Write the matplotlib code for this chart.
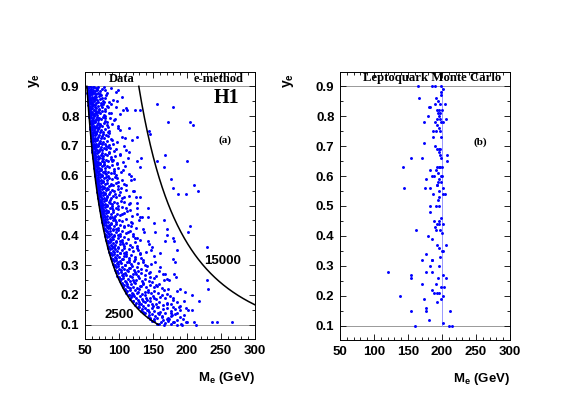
import numpy as np
import matplotlib
matplotlib.use('Agg')
import matplotlib.pyplot as plt
from matplotlib.ticker import MultipleLocator

plt.rcParams['font.family'] = 'Liberation Sans'
plt.rcParams['mathtext.fontset'] = 'custom'
plt.rcParams['mathtext.rm'] = 'Liberation Sans'
plt.rcParams['mathtext.bf'] = 'Liberation Sans:bold'

# --- data ---
# (a) H1 data, e-method: dense band right of the Q2 = 2500 line
dense_pts = [
    (53.1,.899),(53.8,.886),(54.6,.894),(55.2,.881),(55.9,.897),(56.7,.889),(57.5,.884),(58.2,.899),(59.0,.891),(60.3,.882),(61.1,.896),(62.4,.888),(63.8,.899),(64.6,.883),(66.2,.893),(67.9,.887),(69.5,.898),(71.8,.884),(74.3,.892),(77.6,.897),(79,.886),(88,.895),(99,.889),
    (53.6,.878),(54.3,.864),(54.9,.872),(55.7,.867),(56.4,.876),(57.1,.861),(57.9,.871),(58.8,.879),(59.6,.865),(60.7,.874),(61.9,.862),(63.2,.877),(64.1,.869),(65.5,.873),(66.8,.863),(68.4,.878),(70.1,.866),(72.6,.874),(75.2,.862),(81,.871),(83,.877),(104,.865),
    (54.2,.859),(54.8,.846),(55.5,.853),(56.1,.841),(56.9,.857),(57.6,.849),(58.4,.843),(59.3,.855),(60.1,.847),(61.2,.858),(62.0,.842),(63.5,.851),(64.8,.856),(66.1,.844),(67.7,.853),(69.2,.848),(71.4,.857),(73.9,.845),(76.8,.852),(78,.846),(91,.855),(86,.849),
    (54.8,.838),(55.4,.826),(56.0,.834),(56.6,.821),(57.3,.831),(58.1,.839),(58.9,.825),(59.8,.833),(60.6,.828),(61.7,.837),(62.9,.822),(64.2,.831),(65.4,.836),(66.9,.826),(68.6,.834),(70.3,.823),(72.8,.838),(75.4,.829),(82,.835),(80,.824),(96,.832),(110,.827),
    (55.4,.818),(56.1,.806),(56.7,.813),(57.4,.802),(58.0,.817),(58.8,.809),(59.5,.804),(60.4,.815),(61.3,.807),(62.5,.819),(63.6,.803),(64.9,.812),(66.3,.816),(67.8,.805),(69.6,.814),(71.9,.809),(74.7,.818),(77.4,.803),(85,.811),(79,.816),(101,.806),
    (56.1,.798),(56.8,.785),(57.4,.793),(58.2,.781),(58.9,.796),(59.7,.788),(60.5,.783),(61.4,.795),(62.3,.787),(63.5,.799),(64.7,.782),(66.0,.791),(67.4,.796),(69.0,.786),(70.8,.794),(73.1,.789),(75.9,.797),(78.8,.784),(80,.792),(93,.787),(87,.795),
    (56.9,.778),(57.6,.764),(58.2,.772),(58.9,.761),(59.7,.775),(60.5,.768),(61.3,.763),(62.3,.776),(63.2,.766),(64.4,.779),(65.6,.762),(67.0,.771),(68.5,.777),(70.2,.765),(72.2,.773),(74.6,.768),(77.3,.776),(84,.763),(82,.771),(98,.766),(90,.774),
    (57.7,.758),(58.4,.745),(59.0,.752),(59.8,.741),(60.5,.756),(61.4,.748),(62.2,.743),(63.2,.755),(64.1,.746),(65.4,.759),(66.7,.742),(68.1,.751),(69.8,.757),(71.5,.745),(73.6,.753),(76.2,.748),(79.2,.756),(86,.744),(101,.752),(84,.747),
    (58.5,.738),(59.2,.725),(59.9,.733),(60.6,.721),(61.4,.736),(62.3,.728),(63.2,.723),(64.2,.735),(65.2,.726),(66.5,.739),(67.9,.722),(69.4,.731),(71.0,.737),(72.9,.725),(75.1,.733),(77.8,.728),(81.0,.736),(88,.724),(84,.732),(109,.727),
    (59.3,.718),(60.0,.705),(60.7,.713),(61.5,.701),(62.3,.716),(63.2,.708),(64.1,.703),(65.2,.715),(66.3,.706),(67.6,.719),(69.0,.702),(70.6,.711),(72.3,.717),(74.3,.705),(76.6,.713),(79.4,.708),(82.8,.716),(85,.704),(97,.712),(91,.707),
    (60.1,.698),(60.9,.685),(61.6,.693),(62.4,.681),(63.2,.696),(64.1,.688),(65.1,.683),(66.2,.695),(67.3,.686),(68.7,.699),(70.2,.682),(71.8,.691),(73.6,.697),(75.6,.685),(78.0,.693),(81.0,.688),(84,.696),(93,.684),(87,.692),(111,.687),
    (61.0,.678),(61.8,.665),(62.5,.673),(63.3,.661),(64.2,.676),(65.1,.668),(66.1,.663),(67.2,.675),(68.4,.666),(69.8,.679),(71.3,.662),(73.0,.671),(74.9,.677),(77.0,.665),(79.6,.673),(82.5,.668),(86,.676),(88,.664),(102,.672),(94,.667),
    (62.0,.658),(62.8,.645),(63.5,.653),(64.4,.641),(65.3,.656),(66.2,.648),(67.2,.643),(68.4,.655),(69.6,.646),(71.0,.659),(72.6,.642),(74.3,.651),(76.2,.657),(78.5,.645),(81.1,.653),(84,.648),(88,.656),(97,.644),(91,.652),(106,.647),
    (62.9,.638),(63.7,.625),(64.5,.633),(65.4,.621),(66.3,.636),(67.3,.628),(68.3,.623),(69.5,.635),(70.8,.626),(72.2,.639),(73.8,.622),(75.6,.631),(77.6,.637),(79.9,.625),(82.6,.633),(86,.628),(90,.636),(93,.624),(109,.632),(99,.627),
    (64.0,.618),(64.8,.605),(65.6,.613),(66.5,.601),(67.4,.616),(68.4,.608),(69.5,.603),(70.7,.615),(72.0,.606),(73.5,.619),(75.1,.602),(77.0,.611),(79.1,.617),(81.5,.605),(84.3,.613),(88,.608),(92,.616),(95,.604),(103,.612),(114,.607),
    (65.1,.598),(65.9,.585),(66.7,.593),(67.6,.581),(68.6,.596),(69.6,.588),(70.7,.583),(71.9,.595),(73.3,.586),(74.8,.599),(76.5,.582),(78.4,.591),(80.5,.597),(83.0,.585),(85.9,.593),(89,.588),(94,.596),(104,.584),(97,.592),(118,.587),
    (66.2,.578),(67.0,.565),(67.9,.573),(68.8,.561),(69.8,.576),(70.8,.568),(72.0,.563),(73.2,.575),(74.6,.566),(76.2,.579),(77.9,.562),(79.8,.571),(82.0,.577),(84.6,.565),(87.5,.573),(91,.568),(96,.576),(99,.564),(108,.572),
    (67.4,.558),(68.2,.545),(69.1,.553),(70.0,.541),(71.0,.556),(72.1,.548),(73.3,.543),(74.6,.555),(76.0,.546),(77.6,.559),(79.3,.542),(81.3,.551),(83.5,.557),(86.1,.545),(89.1,.553),(93,.548),(98,.556),(101,.544),(111,.552),(121,.547),
    (68.7,.538),(69.5,.525),(70.4,.533),(71.3,.521),(72.4,.536),(73.5,.528),(74.7,.523),(76.0,.535),(77.5,.526),(79.1,.539),(80.9,.522),(82.9,.531),(85.2,.537),(87.9,.525),(91.0,.533),(95,.528),(100,.536),(104,.524),(115,.532),
    (70.0,.518),(70.9,.505),(71.8,.513),(72.8,.501),(73.8,.516),(75.0,.508),(76.2,.503),(77.6,.515),(79.1,.506),(80.8,.519),(82.6,.502),(84.7,.511),(87.0,.517),(89.8,.505),(93.0,.513),(97,.508),(103,.516),(114,.504),(107,.512),(126,.507),
    (71.5,.498),(72.4,.485),(73.3,.493),(74.3,.481),(75.4,.496),(76.6,.488),(77.9,.483),(79.3,.495),(80.8,.486),(82.5,.499),(84.4,.482),(86.6,.491),(89.0,.497),(91.8,.485),(95,.493),(99,.488),(105,.496),(116,.484),(110,.492),
    (73.0,.478),(73.9,.465),(74.9,.473),(75.9,.461),(77.0,.476),(78.3,.468),(79.6,.463),(81.0,.475),(82.6,.466),(84.4,.479),(86.3,.462),(88.5,.471),(91.0,.477),(93.9,.465),(97,.473),(101,.468),(108,.476),(119,.464),(127,.472),
    (74.6,.458),(75.5,.445),(76.5,.453),(77.6,.441),(78.8,.456),(80.0,.448),(81.4,.443),(82.9,.455),(84.5,.446),(86.3,.459),(88.3,.442),(90.6,.451),(93.2,.457),(96.2,.445),(100,.453),(104,.448),(110,.456),(118,.444),(129,.452),
    (76.3,.438),(77.3,.425),(78.3,.433),(79.5,.421),(80.7,.436),(82.0,.428),(83.4,.423),(84.9,.435),(86.6,.426),(88.5,.439),(90.6,.422),(93.0,.431),(95.7,.437),(98.8,.425),(102,.433),(107,.428),(113,.436),(125,.424),(117,.432),
    (78.1,.418),(79.1,.405),(80.2,.413),(81.4,.401),(82.7,.416),(84.0,.408),(85.5,.403),(87.1,.415),(88.9,.406),(90.9,.419),(93.1,.402),(95.6,.411),(98.4,.417),(101.6,.405),(105,.413),(110,.408),(116,.416),(121,.404),(137,.412),
    (80.1,.398),(81.2,.385),(82.3,.393),(83.5,.381),(84.8,.396),(86.2,.388),(87.7,.383),(89.4,.395),(91.2,.386),(93.3,.399),(95.6,.382),(98.1,.391),(101,.397),(104.3,.385),(108,.393),(113,.388),(120,.396),(131,.384),(124,.392),
    (82.2,.378),(83.3,.365),(84.5,.373),(85.8,.361),(87.1,.376),(88.6,.368),(90.2,.363),(91.9,.375),(93.8,.366),(96.0,.379),(98.4,.362),(101,.371),(104,.377),(107.5,.365),(111,.373),(116,.368),(123,.376),(126,.364),(144,.372),
    (84.5,.358),(85.6,.345),(86.8,.353),(88.2,.341),(89.6,.356),(91.1,.348),(92.8,.343),(94.6,.355),(96.6,.346),(98.9,.359),(101.4,.342),(104,.351),(107,.357),(110.8,.345),(115,.353),(120,.348),(127,.356),(139,.344),(128,.352),
    (87.0,.338),(88.2,.325),(89.4,.333),(90.8,.321),(92.3,.336),(93.9,.328),(95.7,.323),(97.6,.335),(99.7,.326),(102,.339),(104.6,.322),(107.4,.331),(110.6,.337),(114.3,.325),(118,.333),(124,.328),(131,.336),(133,.324),(152,.332),
    (89.8,.318),(91.0,.305),(92.3,.313),(93.8,.301),(95.3,.316),(97.0,.308),(98.9,.303),(100.9,.315),(103.1,.306),(105.5,.319),(108.2,.302),(111.2,.311),(114.5,.317),(118.3,.305),(122,.313),(128,.308),(136,.316),(147,.304),(135,.312),
    (92.8,.298),(94.1,.285),(95.4,.293),(97.0,.281),(98.6,.296),(100.4,.288),(102.4,.283),(104.5,.295),(106.8,.286),(109.3,.299),(112.1,.282),(115.2,.291),(118.7,.297),(122.7,.285),(127,.293),(133,.288),(141,.296),(140,.284),(161,.292),
    (96.2,.278),(97.5,.265),(98.9,.273),(100.6,.261),(102.3,.276),(104.2,.268),(106.3,.263),(108.6,.275),(111.0,.266),(113.7,.279),(116.6,.262),(119.9,.271),(123.6,.277),(127.8,.265),(132,.273),(138,.268),(146,.276),(155,.264),(144,.272),
    (100.0,.258),(101.4,.245),(102.9,.253),(104.7,.241),(106.5,.256),(108.5,.248),(110.7,.243),(113.1,.255),(115.7,.246),(118.5,.259),(121.6,.242),(125.1,.251),(129,.257),(133.4,.245),(138,.253),(144,.248),(152,.256),(149,.244),(170,.252),
    (104.3,.238),(105.8,.225),(107.4,.233),(109.3,.221),(111.2,.236),(113.4,.228),(115.7,.223),(118.2,.235),(120.9,.226),(123.9,.239),(127.2,.222),(130.9,.231),(135,.237),(139.7,.225),(145,.233),(151,.228),(159,.236),(163,.224),(154,.232),
    (109.1,.218),(110.7,.205),(112.4,.213),(114.4,.201),(116.5,.216),(118.8,.208),(121.3,.203),(124.0,.215),(126.9,.206),(130.1,.219),(133.6,.202),(137.5,.211),(142,.217),(147,.205),(152,.213),(158,.208),(166,.216),(171,.204),(185,.212),
    (114.7,.198),(116.4,.185),(118.3,.193),(120.5,.181),(122.7,.196),(125.2,.188),(127.9,.183),(130.8,.195),(134.0,.186),(137.5,.199),(141.3,.182),(145.5,.191),(150,.197),(155,.185),(161,.193),(167,.188),(175,.196),(179,.184),
    (121.3,.178),(123.2,.165),(125.3,.173),(127.6,.161),(130.0,.176),(132.7,.168),(135.6,.163),(138.7,.175),(142.1,.166),(145.8,.179),(149.9,.162),(154.3,.171),(159,.177),(164.5,.165),(170,.173),(177,.168),(185,.176),(190,.164),
    (129.1,.158),(131.8,.145),(133.5,.153),(136.0,.141),(138.6,.156),(141.5,.148),(144.6,.143),(148.0,.155),(151.7,.146),(155.6,.159),(159.9,.142),(164.6,.151),(170,.157),(176,.145),(182,.153),(190,.148),(199,.156),
    (138.7,.138),(142.0,.125),(143.6,.133),(146.3,.121),(149.2,.136),(152.4,.128),(155.8,.123),(159.4,.135),(163.4,.126),(167.7,.139),(172.3,.122),(177.4,.131),(183,.137),(189,.125),(196,.133),
    (145.5,.119),(148.9,.114),(151.9,.111),(155.6,.104),(158.4,.102),(161.5,.109),(164.7,.117),(168.2,.105),(171.9,.113),(176,.101),(180,.108),(185,.116),(191,.103),(198,.11),
]

# (a) scattered events inside the band, away from the line
scatter_pts = [
    (68,.89),(73,.87),(80,.86),(76,.84),(84,.83),(71,.82),(88,.81),(79,.80),(94,.79),(83,.78),
    (72,.77),(98,.76),(86,.75),(77,.74),(104,.73),(90,.72),(81,.70),(108,.70),(95,.69),(85,.68),
    (101,.67),(113,.66),(89,.65),(97,.64),(78,.64),(106,.62),(92,.61),(118,.60),(84,.60),(99,.58),
    (111,.57),(88,.57),(103,.56),(122,.55),(94,.54),(108,.53),(82,.53),(116,.51),(99,.50),(127,.49),
    (90,.49),(112,.48),(104,.47),(131,.46),(94,.45),(119,.44),(108,.43),(86,.43),(136,.42),(113,.41),
    (98,.40),(126,.39),(142,.38),(106,.37),(119,.36),(93,.36),(147,.35),(131,.34),(110,.33),(124,.32),
    (153,.31),(99,.31),(138,.30),(116,.29),(159,.28),(128,.28),(106,.27),(145,.26),(166,.25),(121,.25),
    (136,.24),(156,.23),(112,.23),(172,.22),(143,.21),(128,.21),(163,.20),(119,.20),(151,.19),(180,.19),
    (136,.18),(170,.17),(129,.17),(158,.16),(188,.16),(143,.15),(176,.14),(137,.14),(163,.13),(194,.12),
    (151,.12),(181,.11),(166,.10),(173,.12),(157,.14),(148,.17),(139,.19),(132,.23),(125,.27),(114,.31),
    (107,.34),(102,.38),(95,.42),(90,.46),(87,.51),(83,.56),(79,.61),(75,.66),(72,.71),(69,.76),
    (66,.81),(63,.86),(61,.88),
]

# (a) sparser events between the two lines
middle_pts = [
    (95,.88),(106,.82),(112,.82),(97,.85),(88,.84),(114,.76),(119,.72),(126,.73),
    (133,.66),(115,.68),(127,.65),(131,.63),(122,.59),(131,.53),(125,.53),(142,.49),
    (134,.46),(143,.46),(151,.44),(166,.45),(153,.41),(170,.42),(170,.40),(168,.38),
    (179,.39),(181,.38),(186,.35),(149,.36),(160,.34),(179,.32),(182,.31),(167,.27),
    (164,.27),(174,.25),(184,.26),(181,.27),(190,.22),(197,.21),(207,.20),(195,.18),
    (202,.15),(207,.15),(186,.14),(180,.16),(176,.13),(170,.12),(185,.10),(192,.10),
    (200,.11),(124,.82),(131,.82),
]

# (a) events beyond the Q2 = 15000 line
sparse_pts = [
    (156,.84),(179,.83),(172,.78),(204,.78),(209,.77),(144,.75),(146,.74),(168,.67),
    (156,.65),(200,.65),(166,.63),(177,.59),(210,.57),(216,.55),(180,.56),(187,.54),
    (199,.54),(204,.43),(202,.41),(230,.36),(230,.25),(231,.22),(237,.11),(244,.11),
    (266,.11),(218,.18),(210,.11),(213,.10),
]

# (b) leptoquark Monte Carlo, M = 200 GeV
lq_m = [164,185,189,199,201,166,191,199,199,194,190,205,182,181,197,192,196,200,194,197,
        195,180,197,193,206,201,198,173,189,193,196,191,197,187,187,198,174,190,192,195,
        197,195,197,208,170,155,199,207,142,195,197,192,200,183,191,194,200,186,188,177,
        199,196,194,192,198,192,175,144,201,183,195,202,187,204,195,194,182,191,195,182,
        198,195,188,193,202,190,195,197,200,191,162,179,186,193,206,195,200,201,176,197,
        186,185,170,195,183,177,185,120,155,202,194,154,206,170,198,191,203,186,196,188,
        192,138,201,198,174,193,176,176,154,212,181,201,211,214,161]
lq_y = [.90,.90,.90,.90,.89,.86,.86,.88,.87,.85,.84,.84,.83,.83,.84,.82,.82,.82,.81,.81,
        .80,.80,.79,.79,.79,.78,.78,.78,.78,.77,.76,.75,.75,.75,.73,.73,.71,.70,.69,.69,
        .69,.68,.67,.67,.66,.66,.66,.65,.63,.63,.63,.63,.63,.62,.62,.61,.60,.60,.60,.59,
        .60,.59,.58,.57,.58,.57,.56,.56,.56,.56,.55,.54,.54,.54,.53,.52,.50,.50,.50,.48,
        .46,.45,.45,.44,.44,.43,.44,.42,.41,.42,.42,.40,.39,.37,.37,.36,.35,.35,.34,.33,
        .32,.32,.32,.30,.30,.28,.28,.28,.27,.27,.26,.26,.26,.24,.23,.24,.23,.22,.21,.21,
        .21,.20,.20,.19,.19,.18,.16,.15,.15,.15,.12,.11,.10,.10,.10]

q2_lines = [2500, 15000]
q2_label_pos = [(101, 0.131), (252, 0.313)]
y_cuts = [0.1, 0.9]
lq_mass = 200

xa, ya = zip(*(dense_pts + scatter_pts + middle_pts + sparse_pts))

fig = plt.figure(figsize=(5.67, 3.97), dpi=100)
ax1 = fig.add_axes([85/567, 58/397, 170/567, 267/397])
ax2 = fig.add_axes([340/567, 57/397, 170/567, 268/397])

for ax in (ax1, ax2):
    ax.set_xlim(50, 300)
    ax.set_ylim(0.052, 0.948)
    ax.xaxis.set_major_locator(MultipleLocator(50))
    ax.xaxis.set_minor_locator(MultipleLocator(10))
    ax.yaxis.set_major_locator(MultipleLocator(0.1))
    ax.yaxis.set_minor_locator(MultipleLocator(0.05))
    ax.tick_params(which='both', direction='in', top=True, right=True, width=0.6)
    ax.tick_params(which='major', length=4, labelsize=9.5, pad=4)
    ax.tick_params(which='minor', length=2)
    for lab in ax.get_xticklabels() + ax.get_yticklabels():
        lab.set_fontweight('bold')
    for s in ax.spines.values():
        s.set_linewidth(0.7)
    for yc in y_cuts:
        ax.axhline(yc, color='#999999', lw=0.7, zorder=1)
    ax.text(1.0, -0.115, r'M$_\mathbf{e}$ (GeV)', transform=ax.transAxes, ha='right', va='top',
            fontsize=9.5, fontweight='bold')
    ax.text(-0.30, 0.97, r'$\mathbf{y}_\mathbf{e}$', transform=ax.transAxes, rotation=90,
            ha='center', va='center', fontsize=10)

# panel (a)
ax1.scatter(xa, ya, s=4.5, color='blue', linewidths=0, zorder=3)
for q2, (lx, ly) in zip(q2_lines, q2_label_pos):
    m = np.linspace(np.sqrt(q2 / y_cuts[1]), min(300, np.sqrt(q2 / y_cuts[0])), 200)
    ax1.plot(m, q2 / m**2, color='black', lw=1.1, zorder=4)
    ax1.text(lx, ly, str(q2), ha='center', va='center', fontsize=9.5, fontweight='bold')

serif = 'Liberation Serif'
ax1.text(104, 0.916, 'Data', ha='center', va='baseline', family=serif, fontweight='bold', fontsize=9)
ax1.text(283, 0.916, 'e-method', ha='right', va='baseline', family=serif, fontweight='bold', fontsize=9)
ax1.text(258, 0.862, 'H1', ha='center', va='center', family=serif, fontweight='bold', fontsize=14.5)
ax1.text(256, 0.718, '(a)', ha='center', va='center', family=serif, fontweight='bold', fontsize=8)

# panel (b)
ax2.plot([lq_mass, lq_mass], y_cuts, color='#9999ff', lw=0.7, zorder=2)
ax2.scatter(lq_m, lq_y, s=4.5, color='blue', linewidths=0, zorder=3)
ax2.text(185, 0.918, 'Leptoquark Monte Carlo', ha='center', va='baseline', family=serif,
         fontweight='bold', fontsize=9.2)
ax2.text(256, 0.713, '(b)', ha='center', va='center', family=serif, fontweight='bold', fontsize=8)

fig.savefig('out.png', dpi=100)
